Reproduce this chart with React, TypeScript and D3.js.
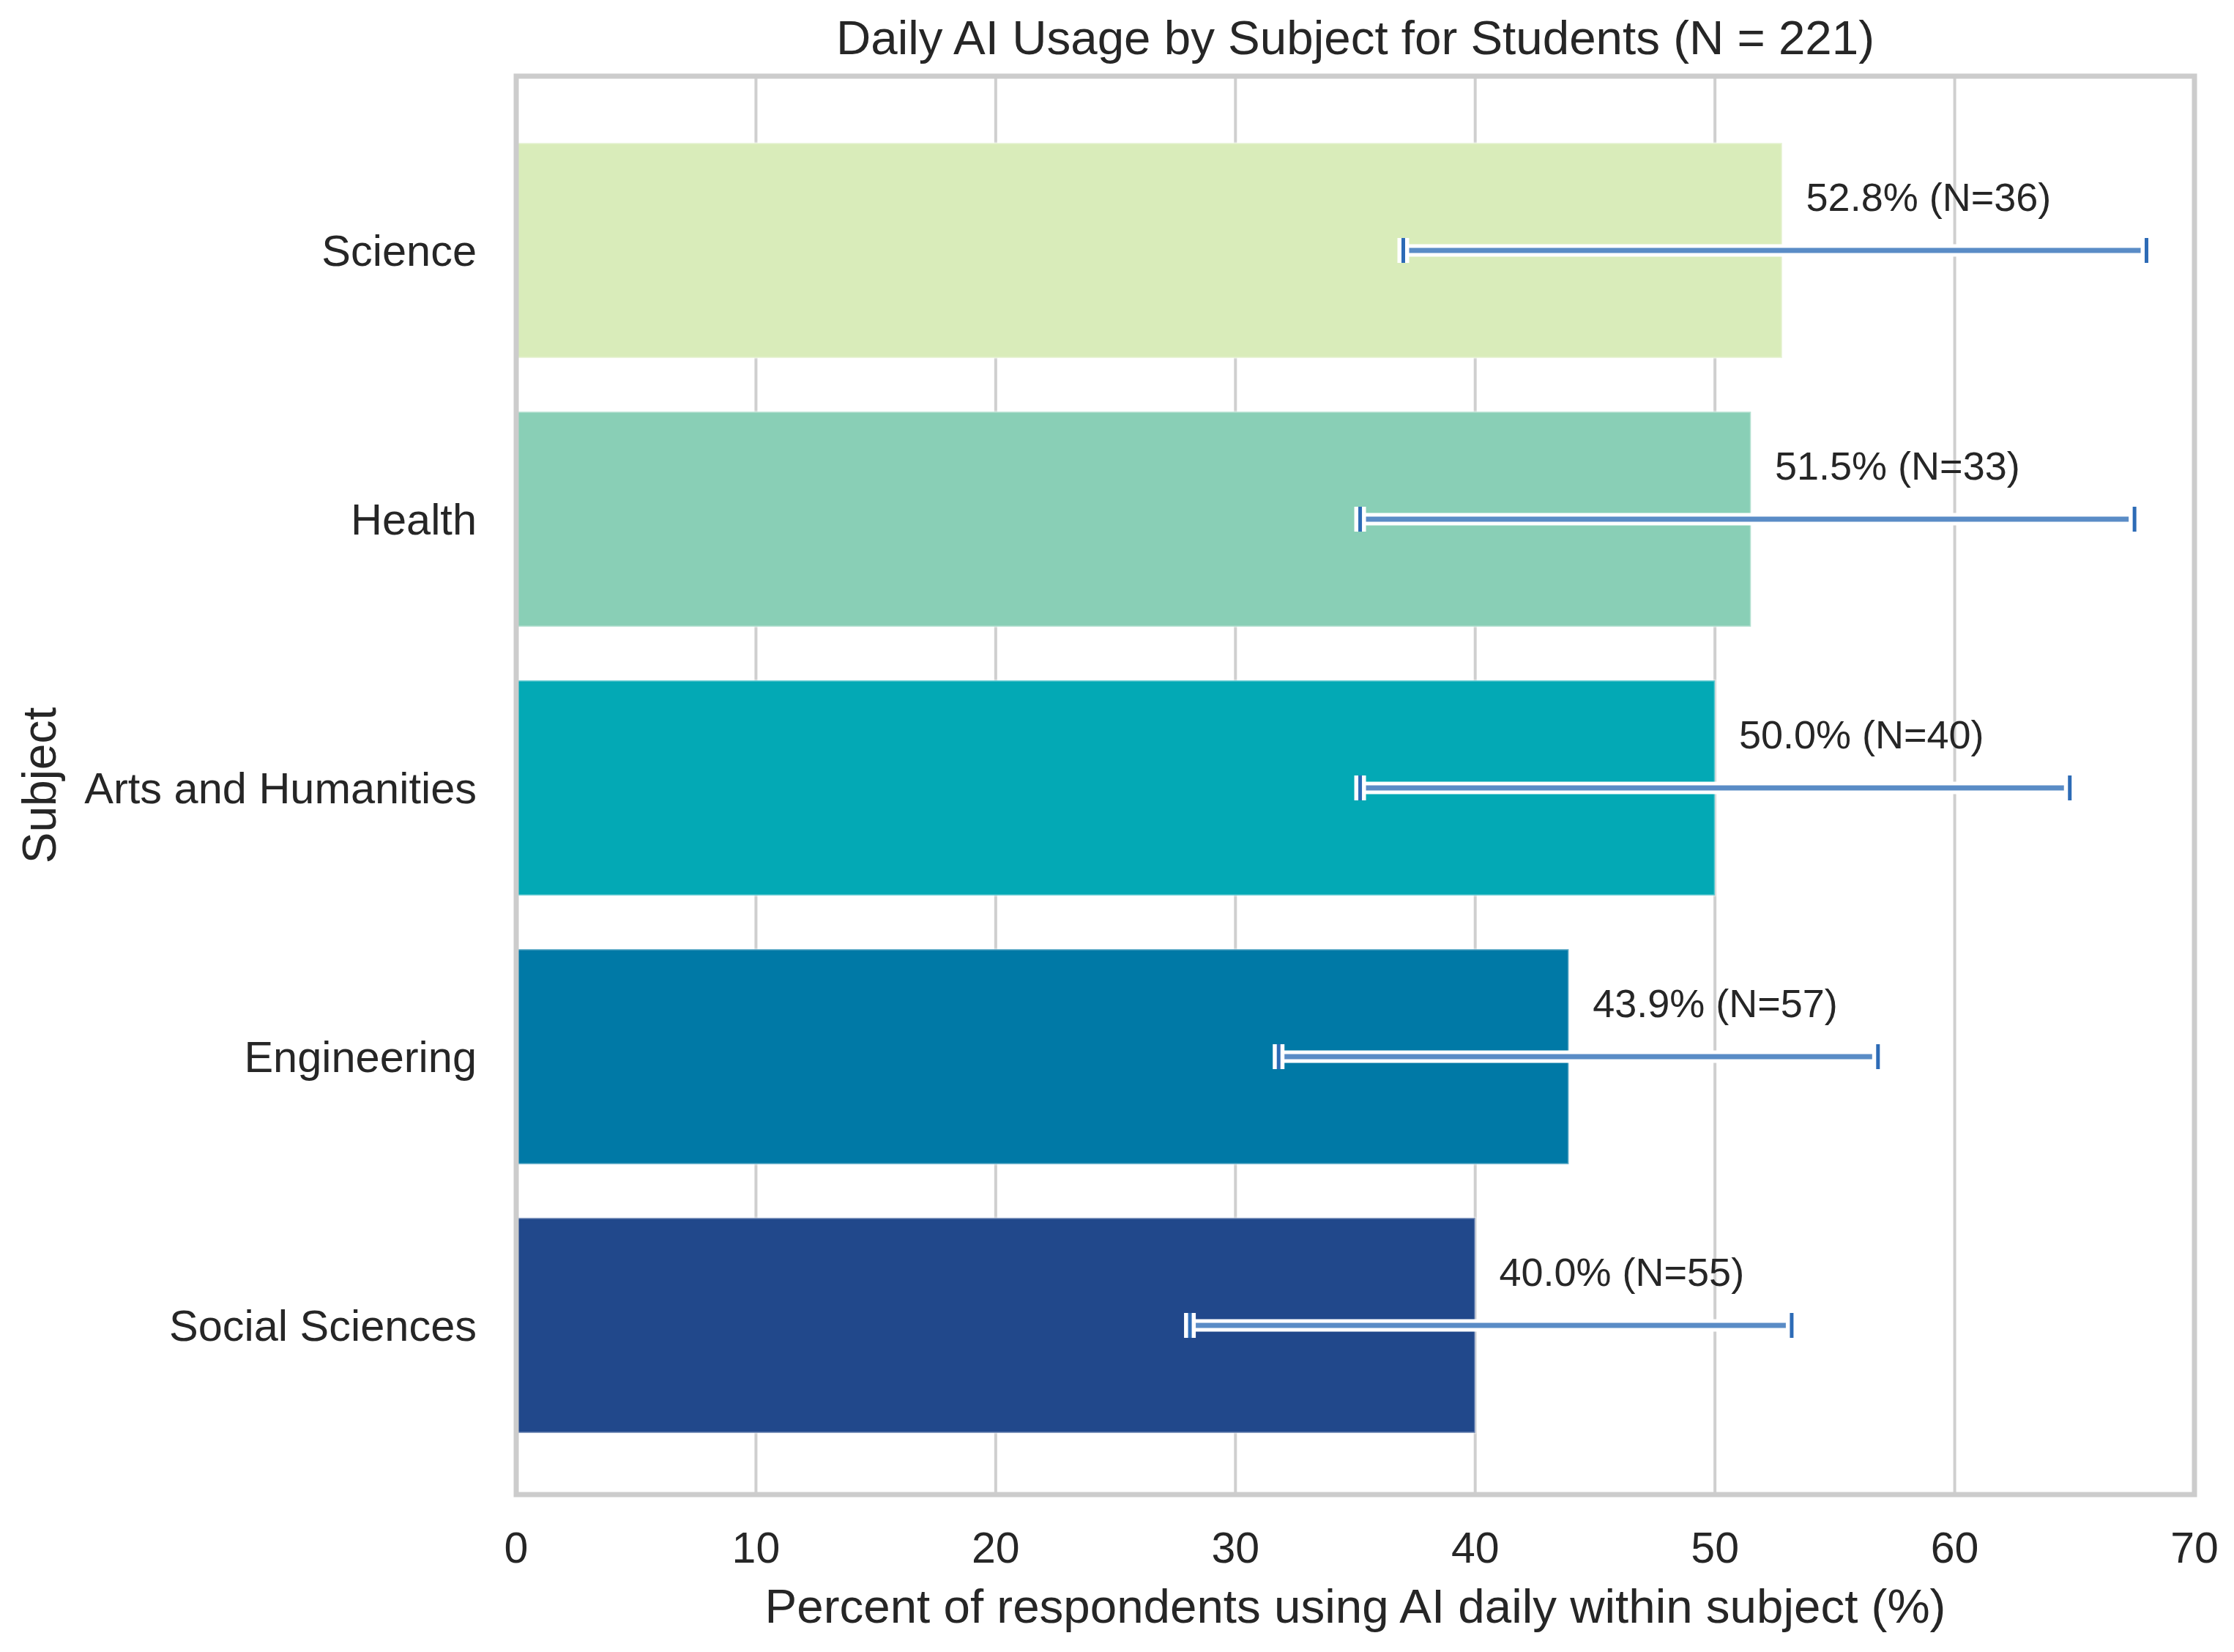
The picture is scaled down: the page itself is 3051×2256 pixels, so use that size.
import * as d3 from "d3";

const subjects = ["Science", "Health", "Arts and Humanities", "Engineering", "Social Sciences"];
const pctDaily = [52.8, 51.5, 50.0, 43.9, 40.0];
const counts = [36, 33, 40, 57, 55];
const ciLow = [37.0, 35.2, 35.2, 31.8, 28.1];
const ciHigh = [68.0, 67.5, 64.8, 56.8, 53.2];
const barColors = ["#d9ecba", "#89cfb6", "#03a9b5", "#0079a6", "#21488b"];
const xTicks = [0, 10, 20, 30, 40, 50, 60, 70];

const W = 3051;
const H = 2256;
const FONT = "'Liberation Sans', Arial, sans-serif";
const TEXT = "#262626";

export default function App() {
  const x = d3.scaleLinear().domain([0, 70]).range([705, 2997]);
  const y = d3
    .scaleBand<string>()
    .domain(subjects)
    .range([104, 2041])
    .paddingInner(0.2)
    .paddingOuter(0.239)
    .align(0.52);
  const bw = y.bandwidth();
  const step = y.step();
  const [x0, x1] = x.range();
  const [y0, y1] = y.range();

  const rows = subjects.map((s, i) => ({
    s,
    v: pctDaily[i],
    n: counts[i],
    lo: ciLow[i],
    hi: ciHigh[i],
    c: barColors[i],
    cy: (y(s) ?? 0) + bw / 2,
  }));

  return (
    <svg
      width={W}
      height={H}
      viewBox={`0 0 ${W} ${H}`}
      style={{ position: "absolute", left: 0, top: 0, display: "block", background: "#fff" }}
      fontFamily={FONT}
    >
      <rect x={0} y={0} width={W} height={H} fill="#fff" />

      {/* grid */}
      {xTicks.map((t) => (
        <line key={t} x1={x(t)} x2={x(t)} y1={y0} y2={y1} stroke="#cfcfcf" strokeWidth={4} />
      ))}

      {/* bars */}
      {rows.map((r) => (
        <rect
          key={r.s}
          x={x(0)}
          y={y(r.s)}
          width={x(r.v) - x(0)}
          height={bw}
          fill={r.c}
          stroke="#ffffff"
          strokeOpacity={0.35}
          strokeWidth={3}
        />
      ))}

      {/* error bars: white halo then blue */}
      {rows.map((r) => (
        <g key={r.s + "-err"}>
          <line x1={x(r.lo)} x2={x(r.hi)} y1={r.cy} y2={r.cy} stroke="#fff" strokeWidth={17} />
          <line x1={x(r.lo)} x2={x(r.hi)} y1={r.cy} y2={r.cy} stroke="#5a8cc6" strokeWidth={7} />
          {[r.lo, r.hi].map((e, k) => (
            <g key={k}>
              <line x1={x(e)} x2={x(e)} y1={r.cy - 17} y2={r.cy + 17} stroke="#fff" strokeWidth={16} />
              <line x1={x(e)} x2={x(e)} y1={r.cy - 17} y2={r.cy + 17} stroke="#2d6bb6" strokeWidth={5} />
            </g>
          ))}
        </g>
      ))}

      {/* value labels */}
      {rows.map((r) => (
        <text
          key={r.s + "-lab"}
          x={x(r.v + 1)}
          y={r.cy - step * 0.2 + 19}
          fontSize={54}
          fill={TEXT}
        >
          {`${r.v.toFixed(1)}% (N=${r.n})`}
        </text>
      ))}

      {/* frame */}
      <rect x={x0} y={y0} width={x1 - x0} height={y1 - y0} fill="none" stroke="#cccccc" strokeWidth={7} />

      {/* y tick labels */}
      {rows.map((r) => (
        <text key={r.s + "-tick"} x={651} y={r.cy + 21} textAnchor="end" fontSize={59.5} fill={TEXT}>
          {r.s}
        </text>
      ))}

      {/* x tick labels */}
      {xTicks.map((t) => (
        <text key={t + "-xt"} x={x(t)} y={2134} textAnchor="middle" fontSize={59} fill={TEXT}>
          {t}
        </text>
      ))}

      <text x={(x0 + x1) / 2} y={2216} textAnchor="middle" fontSize={65.5} fill={TEXT}>
        Percent of respondents using AI daily within subject (%)
      </text>
      <text transform={`translate(76, ${(y0 + y1) / 2}) rotate(-90)`} textAnchor="middle" fontSize={64} fill={TEXT}>
        Subject
      </text>
      <text x={(x0 + x1) / 2} y={74} textAnchor="middle" fontSize={65.5} fill={TEXT}>
        Daily AI Usage by Subject for Students (N = 221)
      </text>
    </svg>
  );
}
